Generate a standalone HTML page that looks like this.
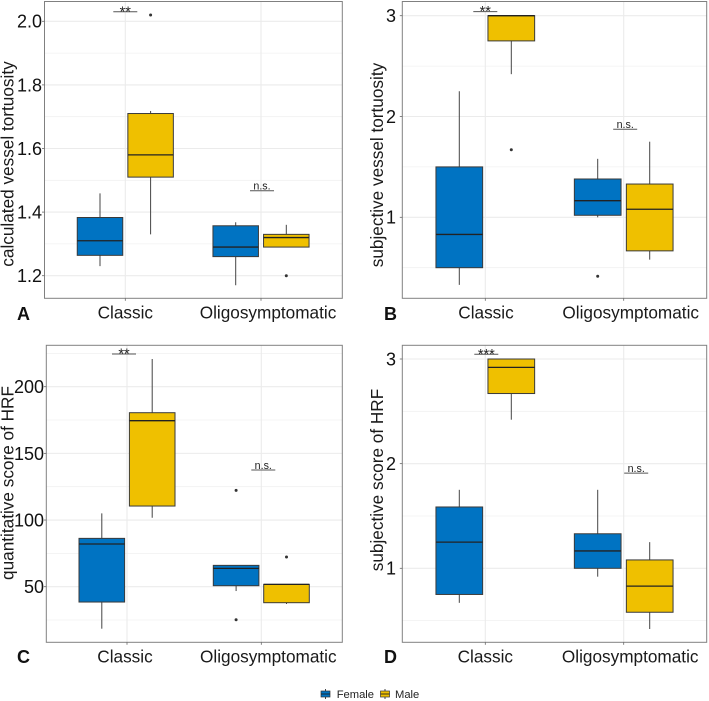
<!DOCTYPE html>
<html lang="en">
<head>
<meta charset="utf-8">
<title>Boxplots by phenotype and sex</title>
<style>
html,body{margin:0;padding:0;background:#fff;}
svg{display:block;font-family:"Liberation Sans",Arial,sans-serif;}
</style>
</head>
<body>
<svg id="figure" xmlns="http://www.w3.org/2000/svg" width="709" height="701" viewBox="0 0 709 701">
  <rect x="0" y="0" width="709" height="701" fill="#ffffff"/>
  <g id="panel-a"></g>
  <g id="panel-b"></g>
  <g id="panel-c"></g>
  <g id="panel-d"></g>

  <text transform="translate(13.3,164) rotate(-90)" text-anchor="middle" font-size="17.2" fill="#1a1a1a">calculated vessel tortuosity</text>
  <text transform="translate(383,165) rotate(-90)" text-anchor="middle" font-size="17.2" fill="#1a1a1a">subjective vessel tortuosity</text>
  <text transform="translate(13.5,483) rotate(-90)" text-anchor="middle" font-size="17.2" fill="#1a1a1a">quantitative score of HRF</text>
  <text transform="translate(383,480) rotate(-90)" text-anchor="middle" font-size="17.2" fill="#1a1a1a">subjective score of HRF</text>

  <text x="17" y="320" font-size="18" font-weight="bold" fill="#111">A</text>
  <text x="384" y="320" font-size="18" font-weight="bold" fill="#111">B</text>
  <text x="17" y="663" font-size="18" font-weight="bold" fill="#111">C</text>
  <text x="384" y="663" font-size="18" font-weight="bold" fill="#111">D</text>

  <g>
    <g>
      <line x1="325.5" x2="325.5" y1="689" y2="699" stroke="#444" stroke-width="1"/>
      <rect x="321" y="691" width="9" height="6" fill="#0073C2" stroke="#333" stroke-width="0.7"/>
      <line x1="321" x2="330" y1="694" y2="694" stroke="#222" stroke-width="0.9"/>
      <text x="336.7" y="698" font-size="11.2" fill="#222">Female</text>
    </g>
    <g>
      <line x1="385" x2="385" y1="689" y2="699" stroke="#444" stroke-width="1"/>
      <rect x="380.5" y="691" width="9" height="6" fill="#EFC000" stroke="#333" stroke-width="0.7"/>
      <line x1="380.5" x2="389.5" y1="694" y2="694" stroke="#222" stroke-width="0.9"/>
      <text x="395" y="698" font-size="11.2" fill="#222">Male</text>
    </g>
  </g>
</svg>

<script>
// Categories and groups
const categories = ["Classic", "Oligosymptomatic"];
const groups = ["Female", "Male"];

// Box stats: [whisker low, q1, median, q3, whisker high], order: Classic F, Classic M, Oligo F, Oligo M
const panelAStats = [
  [1.23, 1.264, 1.31, 1.383, 1.459],
  [1.33, 1.51, 1.58, 1.71, 1.718],
  [1.17, 1.26, 1.29, 1.357, 1.368],
  [1.29, 1.29, 1.32, 1.33, 1.36]
];
const panelBStats = [
  [0.33, 0.5, 0.83, 1.5, 2.25],
  [2.42, 2.75, 3, 3, 3],
  [1.0, 1.02, 1.165, 1.38, 1.58],
  [0.58, 0.667, 1.08, 1.33, 1.75]
];
const panelCStats = [
  [18.5, 38.5, 82, 86.25, 105],
  [101.75, 110.5, 174.5, 180.5, 220.75],
  [46.75, 50.75, 63.75, 66, 66],
  [37, 38, 51.75, 51.75, 51.75]
];
const panelDStats = [
  [0.67, 0.75, 1.25, 1.586, 1.75],
  [2.42, 2.67, 2.92, 3, 3],
  [0.92, 1, 1.166, 1.33, 1.75],
  [0.42, 0.58, 0.83, 1.08, 1.25]
];

// Outliers per box, same order
const panelAOutliers = [[], [2.02], [], [1.2]];
const panelBOutliers = [[], [1.67], [0.415], []];
const panelCOutliers = [[], [], [122.25, 25.25], [72.25]];
const panelDOutliers = [[], [], [], []];

// Significance annotations: heights per category and labels
const panelASigValues = [2.03, 1.467];
const panelBSigValues = [3.04, 1.873];
const panelCSigValues = [224.5, 137.5];
const panelDSigValues = [3.045, 1.91];
const panelASigLabels = ["**", "n.s."];
const panelBSigLabels = ["**", "n.s."];
const panelCSigLabels = ["**", "n.s."];
const panelDSigLabels = ["***", "n.s."];

// Tick values and labels
const panelATicks = [1.2, 1.4, 1.6, 1.8, 2.0];
const panelATickLabels = ["1.2", "1.4", "1.6", "1.8", "2.0"];
const panelAMinorTicks = [1.3, 1.5, 1.7, 1.9];
const panelBTicks = [1, 2, 3];
const panelBTickLabels = ["1", "2", "3"];
const panelBMinorTicks = [0.5, 1.5, 2.5];
const panelCTicks = [50, 100, 150, 200];
const panelCTickLabels = ["50", "100", "150", "200"];
const panelCMinorTicks = [25, 75, 125, 175, 225];
const panelDTicks = [1, 2, 3];
const panelDTickLabels = ["1", "2", "3"];
const panelDMinorTicks = [0.5, 1.5, 2.5];

const fills = ["#0073C2", "#EFC000"];
const NS = "http://www.w3.org/2000/svg";

function mk(parent, tag, attrs) {
  const el = document.createElementNS(NS, tag);
  for (const k in attrs) el.setAttribute(k, attrs[k]);
  parent.appendChild(el);
  return el;
}

function drawPanel(cfg) {
  const root = document.getElementById(cfg.id);
  const yScale = v => cfg.y0 + (v - cfg.v0) * (cfg.y1 - cfg.y0) / (cfg.v1 - cfg.v0);
  const xScale = i => cfg.x0 + i * cfg.xStep;
  const tag = cfg.tag;

  cfg.minor.forEach(v => {
    const y = yScale(v);
    if (y < cfg.top || y > cfg.bottom) return;
    const g = mk(root, "line", {x1: cfg.left, x2: cfg.right, y1: y, y2: y, stroke: "#f1f1f1", "stroke-width": 0.8});
    
    
  });
  cfg.ticks.forEach(v => {
    const y = yScale(v);
    const g = mk(root, "line", {x1: cfg.left, x2: cfg.right, y1: y, y2: y, stroke: "#ebebeb", "stroke-width": 1.1});
    
    
  });
  categories.forEach((c, i) => {
    const x = xScale(i);
    const g = mk(root, "line", {x1: x, x2: x, y1: cfg.top, y2: cfg.bottom, stroke: "#ebebeb", "stroke-width": 1.1});
    
    
  });

  cfg.stats.forEach((s, idx) => {
    const cat = Math.floor(idx / 2);
    const grp = idx % 2;
    const cx = xScale(cat) + (grp === 0 ? -cfg.dodge : cfg.dodge);
    const hw = cfg.boxW / 2;
    const box = mk(root, "g", {});
    
    
    mk(box, "line", {x1: cx, x2: cx, y1: yScale(s[0]), y2: yScale(s[4]), stroke: "#444", "stroke-width": 1});
    mk(box, "rect", {x: cx - hw, y: yScale(s[3]), width: cfg.boxW, height: Math.max(0, yScale(s[1]) - yScale(s[3])), fill: fills[grp], stroke: "#3a3a3a", "stroke-width": 1});
    mk(box, "line", {x1: cx - hw, x2: cx + hw, y1: yScale(s[2]), y2: yScale(s[2]), stroke: "#222", "stroke-width": 1.3});
    cfg.outliers[idx].forEach(v => {
      const p = mk(box, "circle", {cx: cx, cy: yScale(v), r: 1.5, fill: "#333"});
      
      
    });
  });

  cfg.sigValues.forEach((v, i) => {
    const cx = xScale(i) + cfg.sigOffset[i];
    const y = yScale(v);
    const bar = mk(root, "line", {x1: cx - 12, x2: cx + 12, y1: y, y2: y, stroke: "#555", "stroke-width": 1});
    
    
    const isNs = cfg.sigLabels[i] === "n.s.";
    const t = mk(root, "text", {x: cx, y: isNs ? y - 1.2 : y + 4.5, "text-anchor": "middle", "font-size": isNs ? 10.7 : 14.5, fill: "#222"});
    t.textContent = cfg.sigLabels[i];
    
    
  });

  const border = mk(root, "rect", {x: cfg.left, y: cfg.top, width: cfg.right - cfg.left, height: cfg.bottom - cfg.top, fill: "none", stroke: "#808080", "stroke-width": 1});
  
  

  cfg.ticks.forEach((v, i) => {
    const y = yScale(v);
    const m = mk(root, "line", {x1: cfg.left - 2.5, x2: cfg.left, y1: y, y2: y, stroke: "#666", "stroke-width": 0.8});
    
    
    const t = mk(root, "text", {x: cfg.tickEnd, y: y + 6.4, "text-anchor": "end", "font-size": 18, fill: "#111"});
    t.textContent = cfg.tickLabels[i];
    
    
  });
  categories.forEach((c, i) => {
    const x = xScale(i);
    const m = mk(root, "line", {x1: x, x2: x, y1: cfg.bottom, y2: cfg.bottom + 2.5, stroke: "#666", "stroke-width": 0.8});
    
    
    const t = mk(root, "text", {x: x + cfg.labelOffset[i], y: cfg.bottom + 20, "text-anchor": "middle", "font-size": 17.2, fill: "#1a1a1a"});
    t.textContent = c;
    
    
  });
}

drawPanel({id: "panel-a", tag: "a", left: 44.5, right: 342.3, top: 1.5, bottom: 298.3, tickEnd: 42,
  v0: 2.0, y0: 21.3, v1: 1.2, y1: 275.7, x0: 125.3, xStep: 135.7, dodge: 25.3, boxW: 45.5,
  labelOffset: [0, 7], sigOffset: [0, 1],
  stats: panelAStats, outliers: panelAOutliers, sigValues: panelASigValues, sigLabels: panelASigLabels,
  ticks: panelATicks, tickLabels: panelATickLabels, minor: panelAMinorTicks});
drawPanel({id: "panel-b", tag: "b", left: 402.3, right: 706.7, top: 1.5, bottom: 298.3, tickEnd: 396,
  v0: 3, y0: 15.7, v1: 1, y1: 217.3, x0: 485.3, xStep: 138.4, dodge: 26, boxW: 46.7,
  labelOffset: [0.7, 7], sigOffset: [0, 1.5],
  stats: panelBStats, outliers: panelBOutliers, sigValues: panelBSigValues, sigLabels: panelBSigLabels,
  ticks: panelBTicks, tickLabels: panelBTickLabels, minor: panelBMinorTicks});
drawPanel({id: "panel-c", tag: "c", left: 46.3, right: 342.3, top: 345.3, bottom: 642.3, tickEnd: 44,
  v0: 200, y0: 386.7, v1: 50, y1: 586.7, x0: 127, xStep: 134.3, dodge: 25.2, boxW: 45.6,
  labelOffset: [-2, 7], sigOffset: [-3, 2],
  stats: panelCStats, outliers: panelCOutliers, sigValues: panelCSigValues, sigLabels: panelCSigLabels,
  ticks: panelCTicks, tickLabels: panelCTickLabels, minor: panelCMinorTicks});
drawPanel({id: "panel-d", tag: "d", left: 402.3, right: 706.7, top: 345.3, bottom: 642.3, tickEnd: 396,
  v0: 3, y0: 359, v1: 1, y1: 568.3, x0: 485.3, xStep: 138.4, dodge: 26, boxW: 46.7,
  labelOffset: [0, 6.5], sigOffset: [1, 12.5],
  stats: panelDStats, outliers: panelDOutliers, sigValues: panelDSigValues, sigLabels: panelDSigLabels,
  ticks: panelDTicks, tickLabels: panelDTickLabels, minor: panelDMinorTicks});
</script>
</body>
</html>
